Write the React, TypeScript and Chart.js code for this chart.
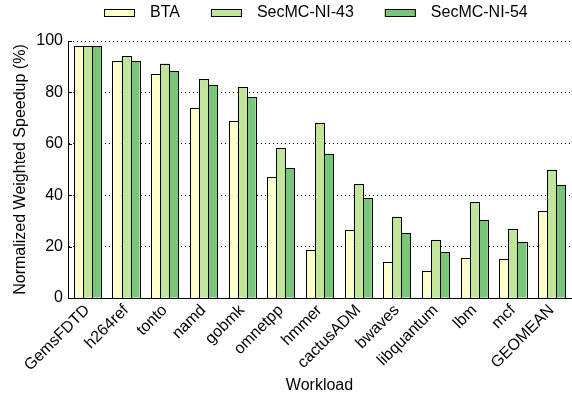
import React, { useEffect, useRef } from "react";
import { Chart, registerables } from "chart.js";

Chart.register(...registerables);

// Workloads on the x axis
const workloads = [
  "GemsFDTD", "h264ref", "tonto", "namd", "gobmk", "omnetpp", "hmmer",
  "cactusADM", "bwaves", "libquantum", "lbm", "mcf", "GEOMEAN",
];

// Normalized weighted speedup (%) per scheme
const btaValues = [98, 92.1, 87.0, 74.0, 68.8, 47.0, 18.8, 26.6, 14.2, 10.4, 15.7, 15.3, 33.8];
const ni43Values = [98, 94.0, 91.2, 85.2, 82.1, 58.4, 68.2, 44.2, 31.7, 22.6, 37.2, 26.9, 50.0];
const ni54Values = [98, 92.1, 88.3, 83.0, 78.1, 50.6, 55.9, 38.8, 25.2, 17.9, 30.3, 21.7, 43.9];

const yTickValues = [0, 20, 40, 60, 80, 100];

const FONT = "'Liberation Sans', Arial, Helvetica, sans-serif";

// Crisp black outlines around every bar, snapped to the pixel grid
const barOutlines = {
  id: "barOutlines",
  afterDatasetsDraw(chart: any) {
    const { ctx } = chart;
    ctx.save();
    ctx.strokeStyle = "#000";
    ctx.lineWidth = 1;
    chart.data.datasets.forEach((_: any, i: number) => {
      const meta = chart.getDatasetMeta(i);
      meta.data.forEach((bar: any) => {
        const left = Math.round(bar.x - bar.width / 2);
        const right = Math.round(bar.x + bar.width / 2);
        const top = Math.round(bar.y);
        const bottom = Math.round(bar.base);
        ctx.strokeRect(left + 0.5, top + 0.5, right - left, bottom - top);
      });
    });
    ctx.restore();
  },
};

// Inward tick marks on the y axis
const innerTicks = {
  id: "innerTicks",
  afterDraw(chart: any) {
    const { ctx, chartArea } = chart;
    const y = chart.scales.y;
    ctx.save();
    ctx.strokeStyle = "#000";
    ctx.lineWidth = 1;
    for (const t of y.ticks) {
      const py = Math.round(y.getPixelForValue(t.value)) + 0.5;
      ctx.beginPath();
      ctx.moveTo(chartArea.left, py);
      ctx.lineTo(chartArea.left + 4, py);
      ctx.stroke();
    }
    ctx.restore();
  },
};

// Single-row legend above the plot
const topLegend = {
  id: "topLegend",
  afterDraw(chart: any) {
    const { ctx } = chart;
    const boxW = 31;
    const boxH = 7;
    const gap = 15;
    const spacing = 31;
    ctx.save();
    ctx.font = `16px ${FONT}`;
    ctx.textBaseline = "middle";
    ctx.textAlign = "left";
    let x = 104;
    const boxTop = 9;
    chart.data.datasets.forEach((ds: any) => {
      ctx.fillStyle = ds.backgroundColor;
      ctx.fillRect(x, boxTop, boxW, boxH);
      ctx.strokeStyle = "#000";
      ctx.lineWidth = 1;
      ctx.strokeRect(x + 0.5, boxTop + 0.5, boxW - 1, boxH);
      const tx = x + boxW + gap;
      ctx.fillStyle = "#000";
      ctx.fillText(ds.label, tx, boxTop + 4);
      x = tx + ctx.measureText(ds.label).width + spacing;
    });
    ctx.restore();
  },
};

export default function App() {
  const canvasRef = useRef<HTMLCanvasElement | null>(null);

  useEffect(() => {
    document.body.style.margin = "0";
    const canvas = canvasRef.current;
    if (!canvas) return;

    const barStyle = {
      borderWidth: 0,
      inflateAmount: 0,
      barPercentage: 1,
      categoryPercentage: 0.7,
    };

    const chart = new Chart(canvas, {
      type: "bar",
      data: {
        labels: workloads,
        datasets: [
          { label: "BTA", data: btaValues, backgroundColor: "#ffffcc", ...barStyle },
          { label: "SecMC-NI-43", data: ni43Values, backgroundColor: "#c2e699", ...barStyle },
          { label: "SecMC-NI-54", data: ni54Values, backgroundColor: "#78c679", ...barStyle },
        ],
      },
      options: {
        responsive: false,
        animation: false,
        layout: { padding: { top: 41, right: 1, bottom: 0, left: 0 } },
        plugins: {
          legend: { display: false },
          tooltip: { enabled: false },
        },
        scales: {
          x: {
            grid: { display: false, drawTicks: false },
            border: { display: true, color: "#000", width: 1 },
            ticks: {
              color: "#000",
              font: { family: FONT, size: 16 },
              minRotation: 45,
              maxRotation: 45,
              padding: 3,
              autoSkip: false,
            },
            title: {
              display: true,
              text: "Workload",
              color: "#000",
              font: { family: FONT, size: 16 },
              padding: { top: 0, bottom: 6 },
            },
            afterFit(scale: any) {
              scale.height = 103;
            },
          },
          y: {
            min: 0,
            max: 100,
            grid: { color: "#000", lineWidth: 1, drawTicks: false },
            border: { display: true, color: "#000", width: 1, dash: [1, 3] },
            ticks: {
              color: "#000",
              font: { family: FONT, size: 16 },
              padding: 5,
            },
            afterBuildTicks(scale: any) {
              scale.ticks = yTickValues.map((v) => ({ value: v }));
            },
            title: {
              display: true,
              text: "Normalized Weighted Speedup (%)",
              color: "#000",
              font: { family: FONT, size: 16 },
              padding: { top: 11, bottom: 0 },
            },
            afterFit(scale: any) {
              scale.width = 68;
            },
          },
        },
      },
      plugins: [barOutlines, innerTicks, topLegend],
    });

    return () => chart.destroy();
  }, []);

  return (
    <div style={{ width: 572, height: 401 }}>
      <canvas ref={canvasRef} width={572} height={401} />
    </div>
  );
}
